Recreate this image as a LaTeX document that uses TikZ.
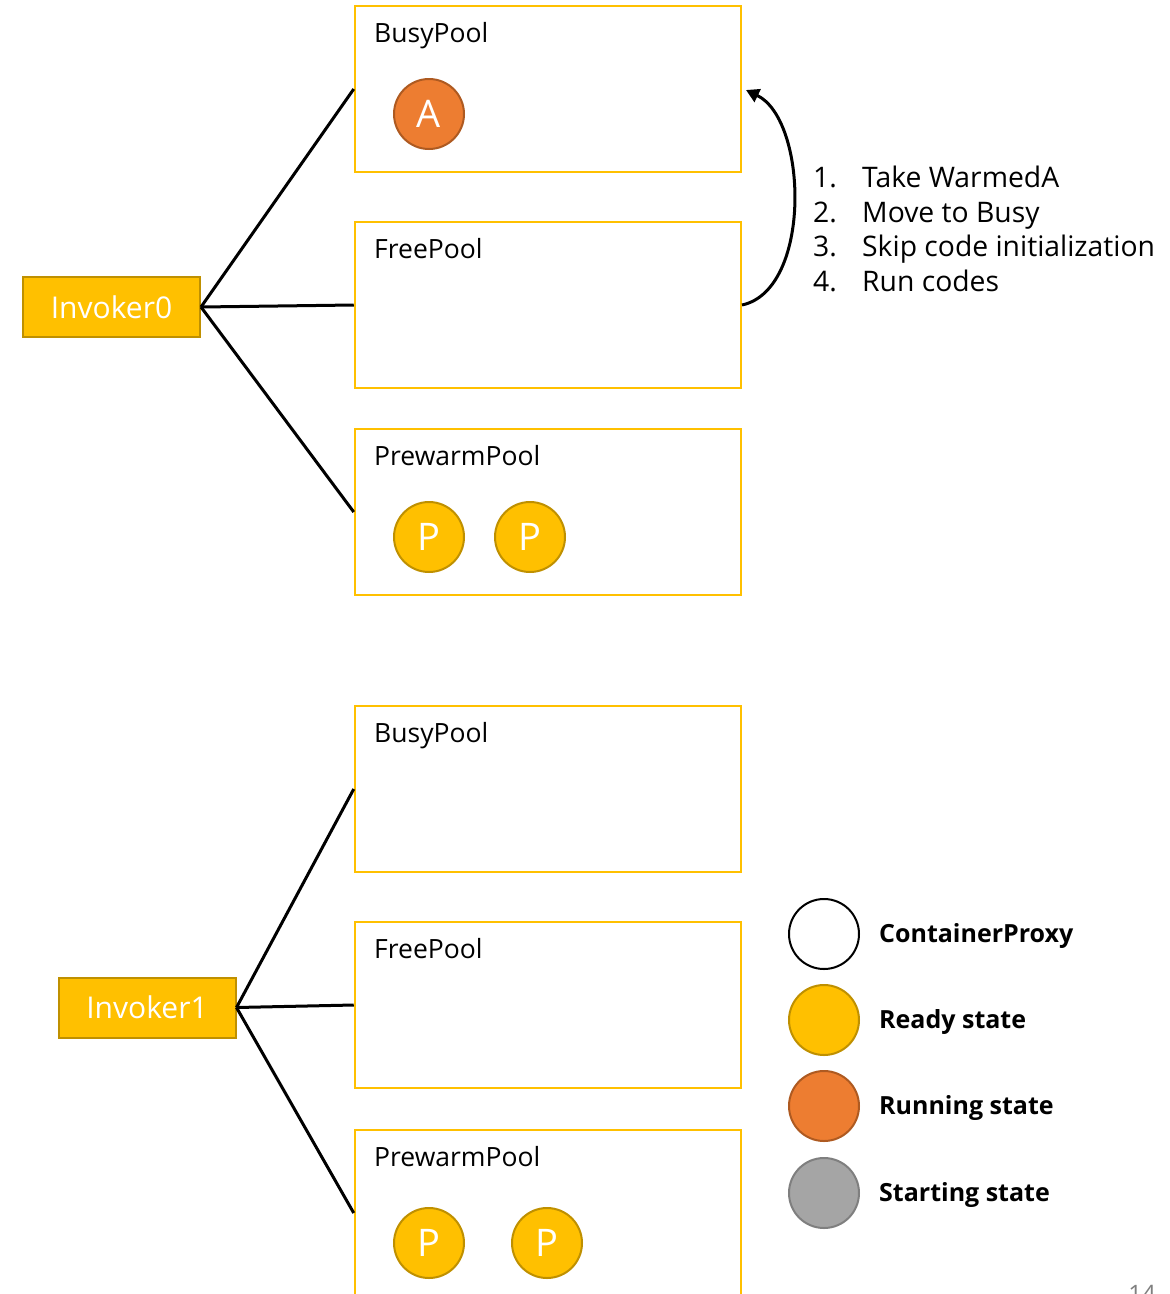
\documentclass[tikz,border=0pt]{standalone}
\usepackage{fontspec}
\setmainfont{Open Sans}
\usetikzlibrary{arrows.meta}
\definecolor{gold}{HTML}{FFC000}
\definecolor{golddark}{HTML}{BF9000}
\definecolor{orng}{HTML}{ED7D31}
\definecolor{orngdark}{HTML}{AE5A21}
\definecolor{grayc}{HTML}{A5A5A5}
\definecolor{graydark}{HTML}{7F7F7F}
\begin{document}
\begin{tikzpicture}[x=1pt,y=-1pt,
  pool/.style={draw=gold,line width=2.5pt,minimum width=386pt,minimum height=166pt,inner sep=0pt},
  poollabel/.style={anchor=base west,font=\fontsize{26.5}{30}\selectfont,inner sep=0pt},
  invoker/.style={draw=golddark,fill=gold,line width=2pt,minimum width=177pt,minimum height=60pt,text=white,font=\fontsize{30}{34}\selectfont,inner sep=0pt},
  cont/.style={circle,minimum size=70pt,inner sep=0pt,line width=2pt,text=white,font=\fontsize{38}{42}\selectfont},
  ready/.style={cont,draw=golddark,fill=gold},
  running/.style={cont,draw=orngdark,fill=orng},
  starting/.style={cont,draw=graydark,fill=grayc},
  plain/.style={cont,draw=black,fill=white},
  conn/.style={line width=3pt,black},
  legtext/.style={anchor=west,font=\bfseries\fontsize{25}{28}\selectfont,inner sep=0pt},
  listtext/.style={anchor=base west,font=\fontsize{28.3}{33}\selectfont,inner sep=0pt}
]
\useasboundingbox (0,0) rectangle (1170,1294);
\begin{scope}
\clip (0,0) rectangle (1170,1294);
% ---------- top group ----------
\node[pool] (busy0) at (548,89) {};
\node[pool] (free0) at (548,305) {};
\node[pool] (pre0) at (548,512) {};
\node[poollabel] (busy0l) at (374,42) {BusyPool};
\node[poollabel] (free0l) at (374,258) {FreePool};
\node[poollabel] (pre0l) at (374,465) {PrewarmPool};
\node[invoker] (inv0) at (111.5,307) {Invoker0};
\node[running] (a0) at (429,114) {A};
\node[ready] (p01) at (429,537) {P};
\node[ready] (p02) at (530,537) {P};
\draw[conn] (inv0.east) -- (busy0.west);
\draw[conn] (inv0.east) -- (free0.west);
\draw[conn] (inv0.east) -- (pre0.west);
\coordinate (arrs) at (742,305);
\coordinate (arre) at (746,90);
\draw[line width=3pt,-{Triangle[length=13pt,width=14pt]}] (arrs) .. controls (812,290) and (808,120) .. (arre);
\node[listtext] (l1n) at (813,187) {1.};
\node[listtext] (l1) at (862,187) {Take WarmedA};
\node[listtext] (l2n) at (813,222) {2.};
\node[listtext] (l2) at (862,222) {Move to Busy};
\node[listtext] (l3n) at (813,256) {3.};
\node[listtext] (l3) at (862,256) {Skip code initialization};
\node[listtext] (l4n) at (813,291) {4.};
\node[listtext] (l4) at (862,291) {Run codes};
% ---------- bottom group ----------
\node[pool] (busy1) at (548,789) {};
\node[pool] (free1) at (548,1005) {};
\node[pool] (pre1) at (548,1213) {};
\node[poollabel] (busy1l) at (374,742) {BusyPool};
\node[poollabel] (free1l) at (374,958) {FreePool};
\node[poollabel] (pre1l) at (374,1166) {PrewarmPool};
\node[invoker] (inv1) at (147,1007.5) {Invoker1};
\node[ready] (p11) at (429,1243) {P};
\node[ready] (p12) at (547,1243) {P};
\draw[conn] (inv1.east) -- (busy1.west);
\draw[conn] (inv1.east) -- (free1.west);
\draw[conn] (inv1.east) -- (pre1.west);
% ---------- legend ----------
\node[plain] (lg1) at (824,934) {};
\node[ready] (lg2) at (824,1020) {};
\node[running] (lg3) at (824,1106) {};
\node[starting] (lg4) at (824,1193) {};
\node[legtext] (lt1) at (879,936) {ContainerProxy};
\node[legtext] (lt2) at (879,1022) {Ready state};
\node[legtext] (lt3) at (879,1108) {Running state};
\node[legtext] (lt4) at (879,1195) {Starting state};
\node[anchor=north east,text=graydark,font=\fontsize{24}{28}\selectfont,inner sep=0pt] (pg) at (1156,1285) {14};
\end{scope}
\end{tikzpicture}
\end{document}
